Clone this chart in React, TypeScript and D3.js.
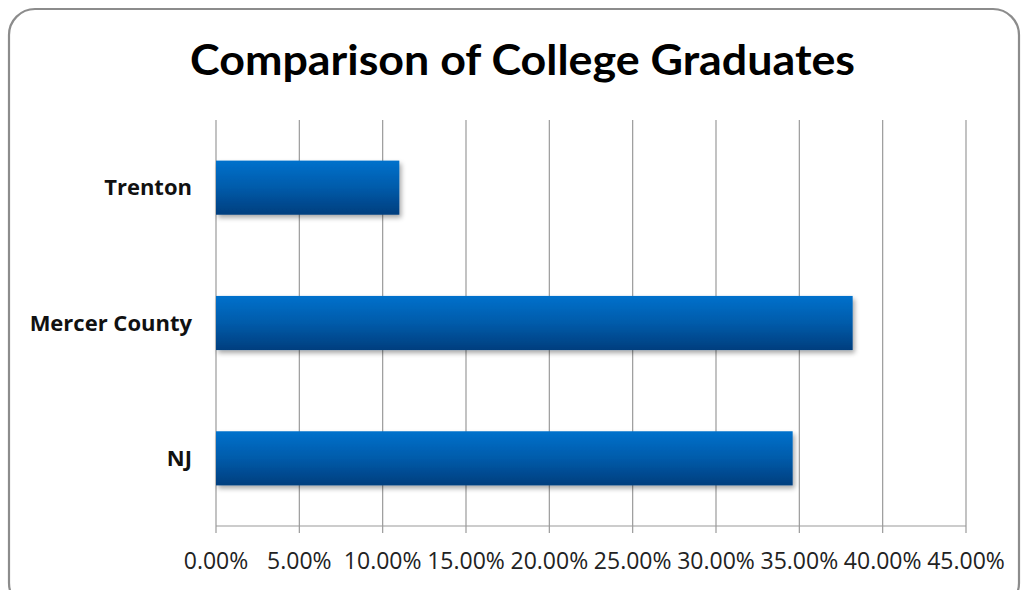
import React from "react";
import * as d3 from "d3";

const categories = ["Trenton", "Mercer County", "NJ"];
const values = [0.11, 0.382, 0.346];
const tickValues = [0, 0.05, 0.1, 0.15, 0.2, 0.25, 0.3, 0.35, 0.4, 0.45];

export default function App() {
  const W = 1023, H = 590;
  const left = 216, right = 966, top = 120, bottom = 526;
  const x = d3.scaleLinear().domain([0, 0.45]).range([left, right]);
  const y = d3.scaleBand().domain(categories).range([top, bottom]).paddingInner(0.6).paddingOuter(0.3);
  const fmt = d3.format(".2%");
  const font = "'Open Sans', Lato, sans-serif";
  return (
    <svg width={W} height={H} style={{ position: "absolute", left: 0, top: 0 }}>
      <defs>
        <linearGradient id="barGrad" x1="0" y1="0" x2="0" y2="1">
          <stop offset="0" stopColor="#0071CC" />
          <stop offset="0.5" stopColor="#005BAA" />
          <stop offset="1" stopColor="#003E7E" />
        </linearGradient>
        <filter id="shadow" x="-5%" y="-20%" width="115%" height="160%">
          <feGaussianBlur in="SourceAlpha" stdDeviation="2.5" />
          <feOffset dx="2" dy="3" result="b" />
          <feComponentTransfer><feFuncA type="linear" slope="0.35" /></feComponentTransfer>
          <feMerge><feMergeNode /><feMergeNode in="SourceGraphic" /></feMerge>
        </filter>
      </defs>
      <rect x={0} y={0} width={W} height={H} fill="#fff" />
      <rect x={9} y={9} width={1010} height={600} rx={26} ry={26} fill="#fff" stroke="#8c8c8c" strokeWidth={2.2} />
      <text x={522.5} y={75} textAnchor="middle" fontFamily="Lato, sans-serif" fontWeight="bold" fontSize={42}
        textLength={665} lengthAdjust="spacingAndGlyphs" fill="#000">
        Comparison of College Graduates
      </text>
      {tickValues.map((t) => (
        <g key={t}>
          <line x1={x(t)} x2={x(t)} y1={top} y2={bottom + 7} stroke="#9a9a9a" strokeWidth={1.2} />
          <text x={x(t)} y={569} textAnchor="middle" fontFamily={font} fontSize={23} fill="#222">
            {fmt(t)}
          </text>
        </g>
      ))}
      <line x1={left} x2={right} y1={bottom} y2={bottom} stroke="#9a9a9a" strokeWidth={1.2} />
      {categories.map((c, i) => (
        <g key={c}>
          <rect x={x(0)} y={y(c)!} width={x(values[i]) - x(0)} height={y.bandwidth()} fill="url(#barGrad)" filter="url(#shadow)" />
          <text x={192} y={y(c)! + y.bandwidth() / 2 + 7.5} textAnchor="end" fontFamily={font} fontWeight="bold" fontSize={22} fill="#111">
            {c}
          </text>
        </g>
      ))}
    </svg>
  );
}
